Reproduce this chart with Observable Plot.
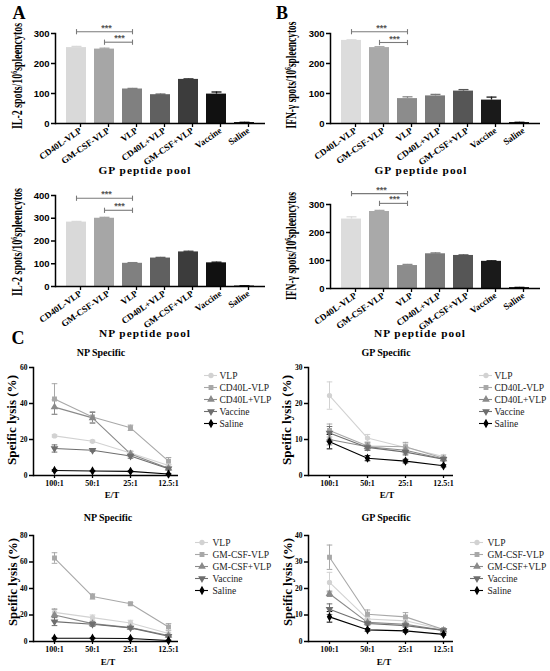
<!DOCTYPE html>
<html><head><meta charset="utf-8">
<script src="https://cdn.jsdelivr.net/npm/d3@7"></script>
<script src="https://cdn.jsdelivr.net/npm/@observablehq/plot@0.6"></script>
<style>
html,body{margin:0;padding:0;background:#fff;}
#fig{position:relative;width:550px;height:671px;overflow:hidden;background:#fff;}
#fig svg{background:transparent !important;overflow:visible;}
.barp g[aria-label="y-axis tick label"]{font-family:"Liberation Sans",Arial,sans-serif;}
</style></head>
<body><div id="fig"></div>
<script>
// ---------- data ----------
const groups = ["CD40L-VLP","GM-CSF-VLP","VLP","CD40L+VLP","GM-CSF+VLP","Vaccine","Saline"];
const il2GP = [253, 248, 115, 96, 147, 98, 3];
const il2GPErr = [4, 3, 2, 2, 2, 7, 1];
const il2NP = [283, 300, 102, 125, 152, 104, 2];
const il2NPErr = [3, 4, 3, 3, 3, 3, 1];
const ifnGP = [277, 253, 83, 92, 108, 78, 3];
const ifnGPErr = [2, 3, 6, 5, 5, 10, 1];
const ifnNP = [248, 275, 82, 124, 118, 97, 3];
const ifnNPErr = [8, 4, 4, 3, 2, 2, 1];
const colorsA = ["#d9d9d9","#a6a6a6","#808080","#606060","#3c3c3c","#111111","#000000"];
const colorsB = ["#dcdcdc","#a9a9a9","#8c8c8c","#7a7a7a","#565656","#1a1a1a","#000000"];
const sigPairs = [["CD40L-VLP","VLP"],["GM-CSF-VLP","VLP"]];
const sigIL2GP = [306, 271];
const sigIL2NP = [388, 335];
const sigIFNGP = [306, 270];
const sigIFNNP = [339, 304];

const etRatios = ["100:1","50:1","25:1","12.5:1"];
const seriesCD40L = ["VLP","CD40L-VLP","CD40L+VLP","Vaccine","Saline"];
const seriesGMCSF = ["VLP","GM-CSF-VLP","GM-CSF+VLP","Vaccine","Saline"];
const lineColors = ["#d2d2d2","#a8a8a8","#8a8a8a","#6e6e6e","#000000"];

const npCD40L = [[22, 19, 12.5, 5.5],[42.5, 32.5, 26.5, 8],[38, 32, 12, 4],[15, 14, 10.8, 3.8],[2.8, 2.5, 2.3, 0.8]];
const npCD40LErr = [[0.6, 0.6, 0.8, 0.8],[8.5, 3, 1.5, 2],[4, 3, 1.5, 1],[2, 0.6, 1.2, 0.6],[0.4, 0.3, 0.3, 0.3]];
const gpCD40L = [[22.2, 10.4, 7.8, 5.3],[12.5, 8.2, 8, 4.8],[10, 8, 7, 4.6],[11.8, 7.8, 6.5, 4.5],[9.4, 4.8, 4, 2.7]];
const gpCD40LErr = [[3.8, 1, 1, 0.5],[1.8, 1, 1.2, 0.4],[1.5, 1, 1, 0.5],[1.8, 0.8, 0.8, 0.4],[2, 0.7, 0.5, 0.3]];
const npGMCSF = [[22, 18, 14, 6],[63, 34, 28.5, 11],[20, 13.5, 10.5, 4.5],[15, 13, 10.3, 4],[2.5, 2.5, 2.3, 0.7]];
const npGMCSFErr = [[2, 2, 2, 1],[4, 2, 1, 2.5],[4.5, 1.5, 1, 0.8],[3, 1.5, 1, 0.5],[0.3, 0.3, 0.3, 0.3]];
const gpGMCSF = [[22.3, 8.5, 7.8, 4.5],[31.8, 10.3, 9.3, 4.5],[18, 7.2, 6.5, 4.2],[12.2, 6.8, 6, 4.2],[9.3, 4.4, 4, 2.7]];
const gpGMCSFErr = [[3.8, 1, 1, 0.4],[4.6, 1.6, 1.6, 0.4],[1, 0.6, 0.6, 0.4],[2, 0.6, 0.6, 0.4],[2, 0.5, 0.5, 0.3]];

// ---------- helpers ----------
const fig = document.getElementById("fig");
const serif = '"Liberation Serif","Times New Roman",serif';
const sans = '"Liberation Sans",Arial,sans-serif';

const hCap = {draw(ctx, size){ const r = Math.sqrt(size/Math.PI); ctx.moveTo(-r,0); ctx.lineTo(r,0); }};
const vCap = {draw(ctx, size){ const r = Math.sqrt(size/Math.PI); ctx.moveTo(0,-r); ctx.lineTo(0,r); }};
const triDown = {draw(ctx, size){ const s3 = Math.sqrt(3); const y = -Math.sqrt(size/(s3*3)); ctx.moveTo(0,-2*y); ctx.lineTo(-s3*y, y); ctx.lineTo(s3*y, y); ctx.closePath(); }};
const lineSymbols = [d3.symbolCircle, d3.symbolSquare, d3.symbolTriangle, triDown, d3.symbolDiamond];

function place(el, left, top, cls){
  el.style.position = "absolute";
  el.style.left = left + "px";
  el.style.top = top + "px";
  if (cls) el.classList.add(cls);
  fig.appendChild(el);
  return el;
}

function label(html, cx, cy, o = {}){
  const {size=10, weight="bold", family=serif, rotate=0, length=null, spacing=0, color="#000"} = o;
  const d = document.createElement("div");
  d.innerHTML = html;
  Object.assign(d.style, {position:"absolute", left:cx+"px", top:cy+"px", fontFamily:family,
    fontSize:size+"px", fontWeight:weight, whiteSpace:"nowrap", lineHeight:"1",
    letterSpacing:spacing+"px", color});
  fig.appendChild(d);
  let sx = 1;
  if (length) sx = length / d.getBoundingClientRect().width;
  d.style.transform = `translate(-50%,-50%) rotate(${rotate}deg) scaleX(${sx})`;
  return d;
}

function barPanel({values, errs, colors, yMax, sig, left, top, height, marginTop, marginBottom}){
  const width = 275, marginLeft = 55, marginRight = 10;
  const step = (width - marginLeft - marginRight) / groups.length;
  const data = groups.map((g,i) => ({group:g, value:values[i], top:values[i]+errs[i]}));
  const br = sigPairs.map(([from,to],k) => ({from, to, y:sig[k]}));
  const ends = br.flatMap(b => [{g:b.from, y:b.y},{g:b.to, y:b.y}]);
  const svg = Plot.plot({
    width, height, marginLeft, marginRight, marginTop, marginBottom,
    style: {background:"transparent", overflow:"visible", fontFamily:serif},
    x: {type:"band", domain:groups, padding:0.3},
    y: {domain:[0, yMax]},
    color: {domain:groups, range:colors},
    marks: [
      Plot.barY(data, {x:"group", y:"value", fill:"group"}),
      Plot.ruleX(data, {x:"group", y1:"value", y2:"top", stroke:"group", strokeWidth:1.3}),
      Plot.dot(data, {x:"group", y:"top", symbol:hCap, r:5, fill:"none", stroke:"group", strokeWidth:1.3}),
      Plot.link(br, {x1:"from", x2:"to", y1:"y", y2:"y", stroke:"#7a7a7a", strokeWidth:1.1}),
      Plot.dot(ends, {x:"g", y:"y", symbol:vCap, r:2.6, fill:"none", stroke:"#7a7a7a", strokeWidth:1.1}),
      ...br.map(b => Plot.text([b], {x:"from", y:"y", text:() => "***",
        dx:(groups.indexOf(b.to) - groups.indexOf(b.from)) * step / 2, dy:-1,
        lineAnchor:"bottom", fontSize:9, fontWeight:"bold", fill:"#555", fontFamily:sans})),
      Plot.ruleY([0], {strokeWidth:1.5}),
      Plot.frame({anchor:"left", strokeWidth:1.5}),
      Plot.axisY({ticks:d3.range(0, yMax + 1, 100), tickFormat:"d", tickSize:4, tickPadding:2,
        label:null, fontSize:9.5, fontWeight:"bold", strokeWidth:1.5}),
      Plot.axisX({tickRotate:-35, tickSize:4, tickPadding:2, dx:4, label:null, fontSize:9, fontWeight:"bold", strokeWidth:1.3})
    ]
  });
  place(svg, left, top, "barp");
}

function linePanel({series, values, errs, yMax, yStep, left, top, height, marginTop, marginBottom}){
  const data = series.flatMap((s,i) => etRatios.map((et,j) => ({series:s, et,
    v:values[i][j], lo:values[i][j]-errs[i][j], hi:values[i][j]+errs[i][j]})));
  const svg = Plot.plot({
    width:185, height, marginLeft:33, marginRight:7, marginTop, marginBottom,
    style: {background:"transparent", overflow:"visible", fontFamily:serif},
    x: {type:"point", domain:etRatios, padding:0, insetLeft:21, insetRight:10},
    y: {domain:[0, yMax]},
    color: {domain:series, range:lineColors},
    symbol: {domain:series, range:lineSymbols},
    marks: [
      Plot.ruleX(data, {x:"et", y1:"lo", y2:"hi", stroke:"series", strokeWidth:1}),
      Plot.dot(data, {x:"et", y:"hi", symbol:hCap, r:2.8, fill:"none", stroke:"series", strokeWidth:1}),
      Plot.dot(data, {x:"et", y:"lo", symbol:hCap, r:2.8, fill:"none", stroke:"series", strokeWidth:1}),
      Plot.line(data, {x:"et", y:"v", z:"series", stroke:"series", strokeWidth:1.1}),
      Plot.dot(data, {x:"et", y:"v", symbol:"series", fill:"series", stroke:"series", r:1.9}),
      Plot.ruleY([0], {strokeWidth:1.5}),
      Plot.frame({anchor:"left", strokeWidth:1.5}),
      Plot.axisY({ticks:d3.range(0, yMax + 1, yStep), tickSize:4, tickPadding:2, label:null,
        fontSize:7.5, fontWeight:"bold", strokeWidth:1.5}),
      Plot.axisX({tickSize:3, tickPadding:2, label:null, fontSize:8, fontWeight:"bold", strokeWidth:1.3})
    ]
  });
  place(svg, left, top);
}

function legendPanel({series, left, top, height, dx}){
  const svg = Plot.plot({
    width:95, height, marginLeft:5, marginRight:77, marginTop:6, marginBottom:5,
    style: {background:"transparent", overflow:"visible", fontFamily:serif},
    y: {type:"point", domain:series, padding:0, axis:null},
    color: {domain:series, range:lineColors},
    symbol: {domain:series, range:lineSymbols},
    marks: [
      Plot.tickY(series, {y:d => d, stroke:d => d, strokeWidth:1.1}),
      Plot.dot(series, {y:d => d, symbol:d => d, fill:d => d, stroke:d => d, r:1.9}),
      Plot.text(series, {y:d => d, text:d => d, frameAnchor:"right", textAnchor:"start", dx,
        fill:"#222", fontSize:9.5})
    ]
  });
  place(svg, left, top);
}

// ---------- panels A & B ----------
barPanel({values:il2GP, errs:il2GPErr, colors:colorsA, yMax:300, sig:sigIL2GP, left:0, top:0, height:180, marginTop:33, marginBottom:57});
barPanel({values:il2NP, errs:il2NPErr, colors:colorsA, yMax:400, sig:sigIL2NP, left:0, top:165, height:180, marginTop:30, marginBottom:59});
barPanel({values:ifnGP, errs:ifnGPErr, colors:colorsB, yMax:300, sig:sigIFNGP, left:275, top:0, height:180, marginTop:33, marginBottom:57});
barPanel({values:ifnNP, errs:ifnNPErr, colors:colorsB, yMax:300, sig:sigIFNNP, left:275, top:165, height:180, marginTop:39, marginBottom:57});

// ---------- panel C ----------
linePanel({series:seriesCD40L, values:npCD40L, errs:npCD40LErr, yMax:60, yStep:20, left:0, top:360, height:140, marginTop:7, marginBottom:25});
linePanel({series:seriesCD40L, values:gpCD40L, errs:gpCD40LErr, yMax:30, yStep:10, left:275, top:360, height:140, marginTop:7, marginBottom:25});
linePanel({series:seriesGMCSF, values:npGMCSF, errs:npGMCSFErr, yMax:80, yStep:20, left:0, top:528, height:143, marginTop:7, marginBottom:30});
linePanel({series:seriesGMCSF, values:gpGMCSF, errs:gpGMCSFErr, yMax:40, yStep:10, left:275, top:528, height:143, marginTop:7, marginBottom:30});

legendPanel({series:seriesCD40L, left:199, top:368, height:60, dx:2});
legendPanel({series:seriesCD40L, left:474, top:368, height:60, dx:2});
legendPanel({series:seriesGMCSF, left:190, top:535, height:61, dx:4});
legendPanel({series:seriesGMCSF, left:465, top:535, height:61, dx:4});

// ---------- text labels ----------
label("A", 19, 13, {size:18});
label("B", 282, 13, {size:18});
label("C", 18, 338, {size:18});

const sup6 = '10<sup style="font-size:0.6em;vertical-align:0.55em;line-height:0">6</sup>';
label(`IL-2 spots/${sup6}spleencytos`, 18, 76, {size:14, rotate:-90, length:106});
label(`IL-2 spots/${sup6}spleencytos`, 18, 242, {size:14, rotate:-90, length:108});
label(`IFN-γ spots/${sup6}spleencytos`, 292, 75, {size:14, rotate:-90, length:107});
label(`IFN-γ spots/${sup6}spleencytos`, 292, 246, {size:14, rotate:-90, length:108});

label("GP peptide pool", 145, 170, {size:11, spacing:1, length:93});
label("NP peptide pool", 145, 333, {size:11, spacing:1, length:92});
label("GP peptide pool", 421, 170, {size:11, spacing:1, length:93});
label("NP peptide pool", 420, 333, {size:11, spacing:1, length:92});

label("NP Specific", 101, 353, {size:10});
label("GP Specific", 386, 353, {size:10});
label("NP Specific", 108, 518, {size:10});
label("GP Specific", 386, 518, {size:10});

label("Speific lysis (%)", 12, 420, {size:12, rotate:-90, length:90});
label("Speific lysis (%)", 287, 420, {size:12, rotate:-90, length:90});
label("Speific lysis (%)", 13, 582, {size:12, rotate:-90, length:88});
label("Speific lysis (%)", 288, 582, {size:12, rotate:-90, length:88});

label("E/T", 112, 495, {size:9});
label("E/T", 387, 495, {size:9});
label("E/T", 108, 662, {size:9});
label("E/T", 384, 662, {size:9});
</script>
</body></html>
